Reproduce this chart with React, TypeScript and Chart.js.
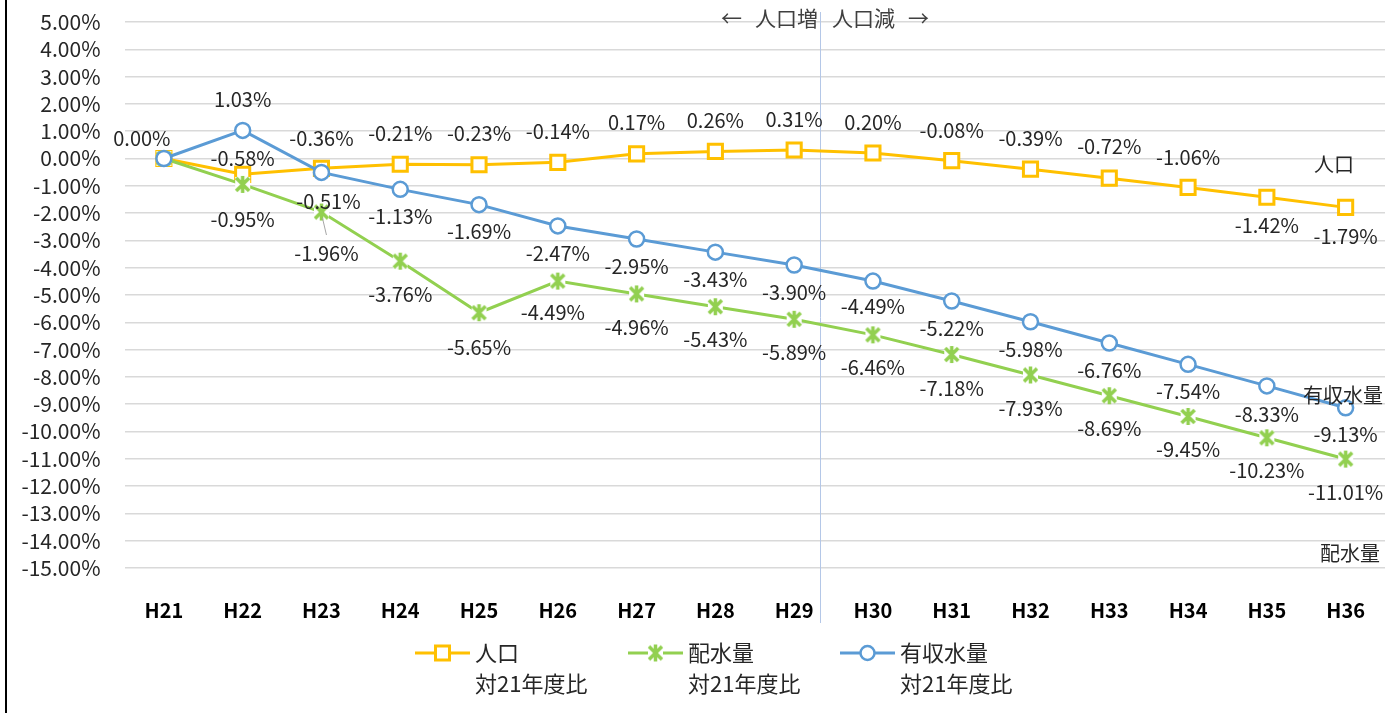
import React, { useEffect, useRef } from "react";
import { Chart, registerables } from "chart.js";
Chart.register(...registerables);

const categories = ["H21", "H22", "H23", "H24", "H25", "H26", "H27", "H28", "H29", "H30", "H31", "H32", "H33", "H34", "H35", "H36"];
const jinkou = [0.0, -0.58, -0.36, -0.21, -0.23, -0.14, 0.17, 0.26, 0.31, 0.2, -0.08, -0.39, -0.72, -1.06, -1.42, -1.79];
const haisui = [0.0, -0.95, -1.96, -3.76, -5.65, -4.49, -4.96, -5.43, -5.89, -6.46, -7.18, -7.93, -8.69, -9.45, -10.23, -11.01];
const yuushu = [0.0, 1.03, -0.51, -1.13, -1.69, -2.47, -2.95, -3.43, -3.9, -4.49, -5.22, -5.98, -6.76, -7.54, -8.33, -9.13];
const seriesNames = ["人口", "配水量", "有収水量"];
const legendSub = "対21年度比";
const annotationParts = ["←", "人口増", "人口減", "→"];
const yMin = -15;
const yMax = 5;

// label offsets (style only): [dx, dy] relative to point, null = no label
const jinkouLabelOffsets: ([number, number] | null)[] = [
  [-22, -20], [0, -16], [0, -30], [0, -31], [0, -31], [0, -31], [0, -31], [0, -31], [0, -31], [0, -31], [0, -30], [0, -31], [0, -32], [0, -30], [0, 28], [0, 29],
];
const haisuiLabelOffsets: ([number, number] | null)[] = [
  null, [0, 35], [5, 41], [0, 33], [0, 35], [-5, 31], [0, 33], [0, 33], [0, 33], [0, 33], [0, 34], [0, 33], [0, 33], [0, 33], [0, 33], [0, 33],
];
const yuushuLabelOffsets: ([number, number] | null)[] = [
  null, [0, -31], [7, 29], [0, 27], [0, 27], [0, 27], [0, 27], [0, 27], [0, 27], [0, 25], [0, 27], [0, 28], [0, 27], [0, 27], [0, 28], [0, 27],
];
// annotation piece offsets from divider line
const annotationDx = [-89, -34, 43, 98];

const FONT = "'Noto Sans CJK JP', 'Noto Sans', sans-serif";
const C_JINKOU = "#FFC000";
const C_HAISUI = "#92D050";
const C_YUUSHU = "#5B9BD5";
const TEXT = "#262626";

function makeStar(color: string, size: number): HTMLCanvasElement {
  const c = document.createElement("canvas");
  c.width = size;
  c.height = size;
  const g = c.getContext("2d")!;
  g.fillStyle = "#fff";
  g.fillRect(2, 2, size - 4, size - 4);
  g.strokeStyle = color;
  g.lineWidth = 3.5;
  g.lineCap = "butt";
  const m = 3;
  g.beginPath();
  g.moveTo(m, m);
  g.lineTo(size - m, size - m);
  g.moveTo(size - m, m);
  g.lineTo(m, size - m);
  g.moveTo(size / 2, 1);
  g.lineTo(size / 2, size - 1);
  g.stroke();
  return c;
}

export default function App() {
  const ref = useRef<HTMLCanvasElement>(null);
  useEffect(() => {
    if (!ref.current) return;
    const star = makeStar(C_HAISUI, 19);
    const offsets = [jinkouLabelOffsets, haisuiLabelOffsets, yuushuLabelOffsets];

    const dividerX = (chart: any) => {
      const xs = chart.scales.x;
      const x8 = xs.getPixelForValue(8);
      const x9 = xs.getPixelForValue(9);
      return Math.round(x8 + 0.33 * (x9 - x8)) + 0.5;
    };

    const decor = {
      id: "decor",
      beforeDatasetsDraw(chart: any) {
        const ctx = chart.ctx;
        const vx = dividerX(chart);
        ctx.save();
        ctx.strokeStyle = "#B4C7E7";
        ctx.lineWidth = 1;
        ctx.beginPath();
        ctx.moveTo(vx, 12);
        ctx.lineTo(vx, 623);
        ctx.stroke();
        ctx.restore();
      },
      afterDatasetsDraw(chart: any) {
        const ctx = chart.ctx;
        ctx.save();
        // data labels
        ctx.font = `20px ${FONT}`;
        ctx.fillStyle = TEXT;
        ctx.textAlign = "center";
        ctx.textBaseline = "middle";
        chart.data.datasets.forEach((ds: any, di: number) => {
          const meta = chart.getDatasetMeta(di);
          meta.data.forEach((pt: any, i: number) => {
            const off = offsets[di][i];
            if (!off) return;
            const v = ds.data[i] as number;
            ctx.fillText(v.toFixed(2) + "%", pt.x + off[0], pt.y + off[1]);
          });
        });
        // leader line for haisui H23
        const m1 = chart.getDatasetMeta(1).data[2];
        ctx.strokeStyle = "#A6A6A6";
        ctx.lineWidth = 1;
        ctx.beginPath();
        ctx.moveTo(m1.x + 1, m1.y + 6);
        ctx.lineTo(m1.x + 5, m1.y + 23);
        ctx.stroke();

        // annotation
        const vx = dividerX(chart);
        ctx.font = `21px ${FONT}`;
        ctx.fillStyle = "#404040";
        annotationParts.forEach((p, k) => ctx.fillText(p, vx + annotationDx[k], 18));

        // series names at right
        ctx.fillStyle = TEXT;
        ctx.font = `20px ${FONT}`;
        ctx.fillText(seriesNames[0], 1334, 164);
        ctx.fillText(seriesNames[2], 1343, 395);
        ctx.fillText(seriesNames[1], 1350, 553);

        // legend
        const items = [
          { x: 415, color: C_JINKOU, kind: "rect" },
          { x: 628, color: C_HAISUI, kind: "star" },
          { x: 840, color: C_YUUSHU, kind: "circle" },
        ];
        const ly = 653;
        items.forEach((it, k) => {
          const name = seriesNames[k];
          ctx.strokeStyle = it.color;
          ctx.lineWidth = 3;
          ctx.beginPath();
          ctx.moveTo(it.x, ly);
          ctx.lineTo(it.x + 55, ly);
          ctx.stroke();
          const cx = it.x + 27.5;
          if (it.kind === "rect") {
            ctx.fillStyle = "#fff";
            ctx.fillRect(cx - 7, ly - 7, 14, 14);
            ctx.lineWidth = 3;
            ctx.strokeRect(cx - 7, ly - 7, 14, 14);
          } else if (it.kind === "circle") {
            ctx.fillStyle = "#fff";
            ctx.lineWidth = 2.5;
            ctx.beginPath();
            ctx.arc(cx, ly, 7, 0, Math.PI * 2);
            ctx.fill();
            ctx.stroke();
          } else {
            ctx.drawImage(star, cx - 9.5, ly - 9.5);
          }
          ctx.fillStyle = TEXT;
          ctx.textAlign = "left";
          ctx.font = `22px ${FONT}`;
          ctx.fillText(name, it.x + 60, ly);
          ctx.fillText(legendSub, it.x + 60, ly + 31);
          ctx.textAlign = "center";
        });

        // left frame edge
        ctx.fillStyle = "#000";
        ctx.fillRect(5, 0, 2, 713);
        ctx.restore();
      },
    };

    const chart = new Chart(ref.current, {
      type: "line",
      data: {
        labels: categories,
        datasets: [
          {
            label: seriesNames[0],
            data: jinkou,
            borderColor: C_JINKOU,
            borderWidth: 3,
            pointStyle: "rect",
            pointRadius: 10,
            pointBorderWidth: 3,
            pointBackgroundColor: "#fff",
            pointBorderColor: C_JINKOU,
            order: 3,
          },
          {
            label: seriesNames[1],
            data: haisui,
            borderColor: C_HAISUI,
            borderWidth: 3,
            pointStyle: star,
            pointRadius: 9,
            pointBackgroundColor: C_HAISUI,
            pointBorderColor: C_HAISUI,
            order: 2,
          },
          {
            label: seriesNames[2],
            data: yuushu,
            borderColor: C_YUUSHU,
            borderWidth: 3,
            pointStyle: "circle",
            pointRadius: 7.5,
            pointBorderWidth: 2.5,
            pointBackgroundColor: "#fff",
            pointBorderColor: C_YUUSHU,
            order: 1,
          },
        ] as any,
      },
      options: {
        animation: false,
        responsive: false,
        layout: { autoPadding: false, padding: { top: 22, right: 0, left: 0, bottom: 0 } },
        plugins: { legend: { display: false }, tooltip: { enabled: false } },
        scales: {
          x: {
            offset: true,
            grid: { display: false },
            border: { display: false },
            ticks: {
              color: "#000",
              font: { family: FONT, size: 20, weight: "bold" },
              padding: 22,
              maxRotation: 0,
              autoSkip: false,
            },
            afterFit: (s: any) => {
              s.height = 145;
            },
          },
          y: {
            min: yMin,
            max: yMax,
            ticks: {
              stepSize: 1,
              autoSkip: false,
              color: TEXT,
              font: { family: FONT, size: 21 },
              padding: 24,
              callback: (v: any) => Number(v).toFixed(2) + "%",
            },
            grid: { color: "#D9D9D9", lineWidth: 1.5, drawTicks: false },
            border: { display: false },
            afterFit: (s: any) => {
              s.width = 124.5;
              s.paddingTop = 0;
              s.paddingBottom = 0;
            },
          },
        },
      } as any,
      plugins: [decor],
    });
    return () => chart.destroy();
  }, []);

  return (
    <div style={{ position: "fixed", left: 0, top: 0, width: 1387, height: 713, background: "#fff" }}>
      <canvas ref={ref} width={1387} height={713} style={{ display: "block" }} />
    </div>
  );
}
